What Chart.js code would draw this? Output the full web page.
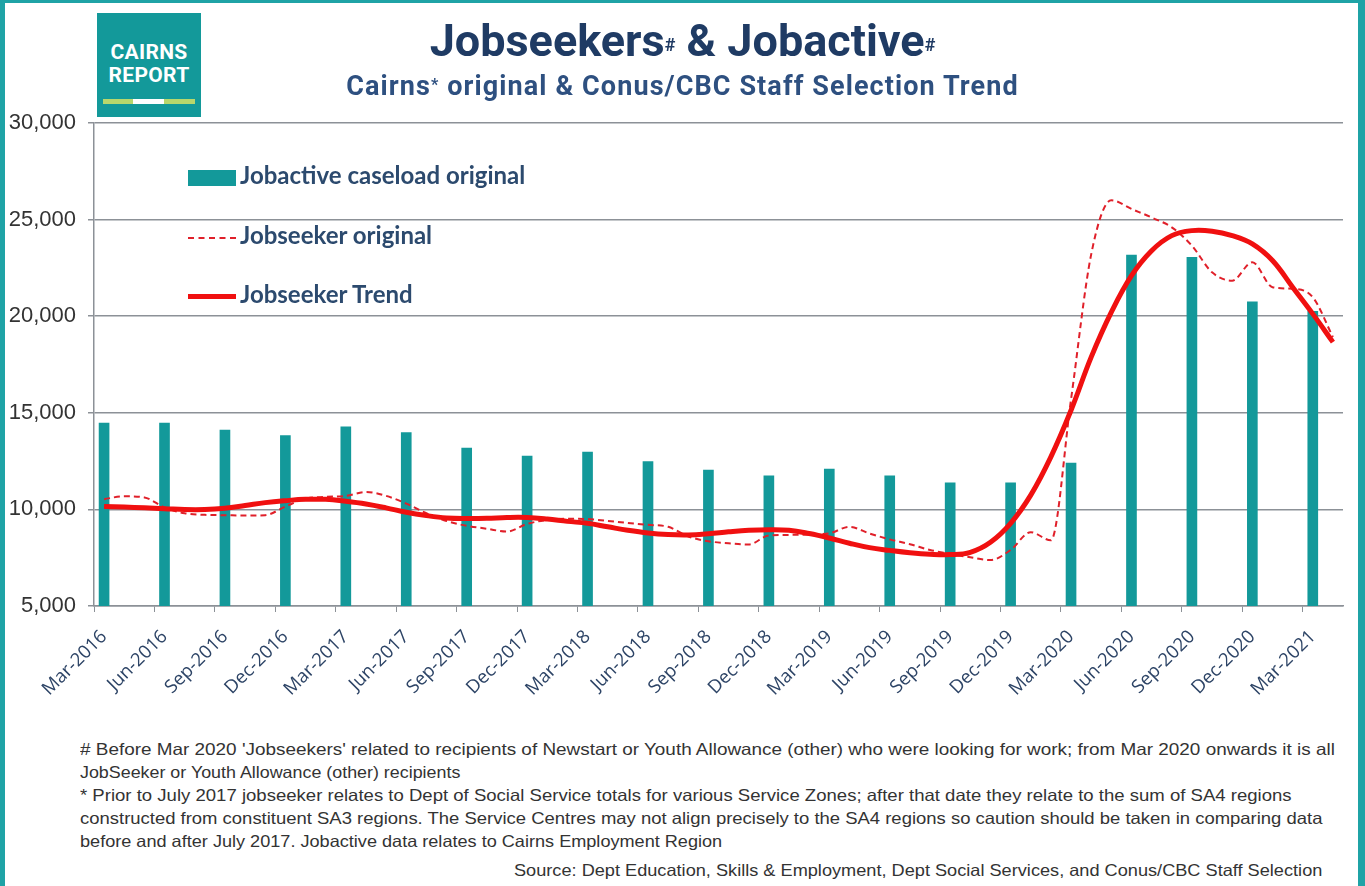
<!DOCTYPE html>
<html>
<head>
<meta charset="utf-8">
<script src="https://cdn.jsdelivr.net/npm/chart.js@4.4.1/dist/chart.umd.min.js"></script>
<style>
  body { margin: 0; width: 1365px; height: 886px; position: relative; background: #fff; overflow: hidden; font-family: "Liberation Sans", Arial, sans-serif; }
  #frame { position: absolute; left: 0; top: 0; width: 1365px; height: 886px; box-sizing: border-box; border-left: 5px solid #1fa3a6; border-right: 7px solid #1fa3a6; border-top: 3px solid #1fa3a6; pointer-events: none; }
  #myChart { position: absolute; left: 0; top: 0; }
  .logo { position: absolute; left: 97px; top: 13px; width: 104px; height: 104px; background: #13999a; color: #fff; font-family: Roboto, sans-serif; font-weight: bold; text-align: center; }
  .logo .t1 { position: absolute; left: 0; width: 104px; top: 28px; font-size: 21px; line-height: 22px; letter-spacing: 0.3px; }
  .logo .t2 { position: absolute; left: 0; width: 104px; top: 51px; font-size: 21px; line-height: 22px; letter-spacing: 0.3px; }
  .logo .bars { position: absolute; left: 6px; top: 86px; height: 5px; width: 92px; background: linear-gradient(to right, #b8d76c 0 33%, #fff 33% 66%, #b8d76c 66% 100%); }
  .title { position: absolute; left: 0; width: 1365px; text-align: center; color: #1f3b64; font-family: Roboto, sans-serif; font-weight: bold; }
  .title sup { font-size: 40%; vertical-align: 0.3em; }
  .leg { position: absolute; left: 188px; height: 28px; font-family: Lato, "Open Sans", sans-serif; font-weight: bold; font-size: 24px; color: #2c4a6e; line-height: 28px; }
  .leg .sw { display: inline-block; width: 48px; vertical-align: middle; margin-right: 4px; }
  .note { position: absolute; left: 80px; font-size: 16.5px; color: #333; white-space: nowrap; transform-origin: left center; }
</style>
</head>
<body>
<canvas id="myChart" width="1365" height="720"></canvas>

<div class="logo"><div class="t1">CAIRNS</div><div class="t2">REPORT</div><div class="bars"></div></div>
<div class="title" style="top:14px; font-size:45px;">Jobseekers<sup>#</sup> &amp; Jobactive<sup>#</sup></div>
<div class="title" style="top:70px; font-size:27px; letter-spacing:1.1px; color:#2e5080;">Cairns<sup style="font-size:60%">*</sup> original &amp; Conus/CBC Staff Selection Trend</div>

<div class="leg" style="top:161px"><span class="sw" style="height:16px; background:#13999a;"></span>Jobactive caseload original</div>
<div class="leg" style="top:221px"><span class="sw" style="border-top:2px dashed #e0202a;"></span>Jobseeker original</div>
<div class="leg" style="top:280px"><span class="sw" style="border-top:5px solid #f01010;"></span>Jobseeker Trend</div>

<div class="note fit" data-w="1255" style="top:740px"># Before Mar 2020 'Jobseekers' related to recipients of Newstart or Youth Allowance (other)  who were looking for work; from Mar 2020 onwards  it is all</div>
<div class="note fit" data-w="380" style="top:763px">JobSeeker or Youth Allowance (other)  recipients</div>
<div class="note fit" data-w="1212" style="top:786px">* Prior to July 2017 jobseeker relates to Dept of Social Service totals for various  Service Zones; after that date they relate to the sum of SA4 regions</div>
<div class="note fit" data-w="1242" style="top:809px">constructed  from constituent  SA3 regions.  The Service Centres may not align precisely to the SA4 regions  so caution should  be taken in comparing  data</div>
<div class="note fit" data-w="642" style="top:832px">before and after July 2017.  Jobactive data relates to Cairns Employment  Region</div>
<div class="note fit" data-w="808" style="top:861px; left:514px">Source: Dept Education,  Skills &amp; Employment,  Dept Social Services, and Conus/CBC  Staff Selection</div>

<div id="frame"></div>

<script>
// Monthly categories, Mar-2016 to Apr-2021
const months = [
    'Mar-2016', 'Apr-2016', 'May-2016', 'Jun-2016', 'Jul-2016', 'Aug-2016', 'Sep-2016', 'Oct-2016', 'Nov-2016', 'Dec-2016',
    'Jan-2017', 'Feb-2017', 'Mar-2017', 'Apr-2017', 'May-2017', 'Jun-2017', 'Jul-2017', 'Aug-2017', 'Sep-2017', 'Oct-2017', 'Nov-2017', 'Dec-2017',
    'Jan-2018', 'Feb-2018', 'Mar-2018', 'Apr-2018', 'May-2018', 'Jun-2018', 'Jul-2018', 'Aug-2018', 'Sep-2018', 'Oct-2018', 'Nov-2018', 'Dec-2018',
    'Jan-2019', 'Feb-2019', 'Mar-2019', 'Apr-2019', 'May-2019', 'Jun-2019', 'Jul-2019', 'Aug-2019', 'Sep-2019', 'Oct-2019', 'Nov-2019', 'Dec-2019',
    'Jan-2020', 'Feb-2020', 'Mar-2020', 'Apr-2020', 'May-2020', 'Jun-2020', 'Jul-2020', 'Aug-2020', 'Sep-2020', 'Oct-2020', 'Nov-2020', 'Dec-2020',
    'Jan-2021', 'Feb-2021', 'Mar-2021', 'Apr-2021'
];

// Jobactive caseload is quarterly
const quarters = [
    'Mar-2016', 'Jun-2016', 'Sep-2016', 'Dec-2016', 'Mar-2017', 'Jun-2017', 'Sep-2017', 'Dec-2017',
    'Mar-2018', 'Jun-2018', 'Sep-2018', 'Dec-2018', 'Mar-2019', 'Jun-2019', 'Sep-2019', 'Dec-2019',
    'Mar-2020', 'Jun-2020', 'Sep-2020', 'Dec-2020', 'Mar-2021'
];
const jobactive = [
    14470, 14470, 14110, 13820, 14270, 13980, 13180, 12760,
    12970, 12470, 12040, 11740, 12090, 11740, 11380, 11380,
    12400, 23170, 23050, 20740, 20250
];

const jobseekerOriginal = [
    10530, 10680, 10620, 10100, 9800, 9720, 9700, 9680, 9700, 10150,
    10550, 10650, 10700, 10900, 10700, 10300, 9800, 9400, 9150, 9000, 8850, 9250,
    9450, 9520, 9500, 9400, 9300, 9200, 9100, 8600, 8350, 8250, 8180, 8650,
    8680, 8700, 8760, 9100, 8750, 8450, 8200, 7900, 7700, 7520, 7380, 7900,
    8820, 8400, 15700, 23200, 26000, 25550, 25110, 24600, 23650, 22270, 21840, 22790,
    21500, 21420, 20980, 18920
];

const jobseekerTrend = [
    10150, 10120, 10080, 10040, 9990, 9990, 10060, 10200, 10350, 10450,
    10520, 10520, 10420, 10280, 10080, 9850, 9680, 9560, 9530, 9540, 9580, 9580,
    9500, 9380, 9280, 9100, 8920, 8780, 8700, 8680, 8740, 8840, 8920, 8950,
    8920, 8750, 8520, 8250, 8020, 7880, 7760, 7680, 7660, 7780, 8300, 9280,
    10740, 12720, 15130, 17880, 20210, 22100, 23390, 24170, 24430, 24400, 24170, 23740,
    22880, 21500, 20120, 18660
];

const yTicks = [5000, 10000, 15000, 20000, 25000, 30000];

const gridGrey = '#8c9197';

const ctx = document.getElementById('myChart').getContext('2d');
const myChart = new Chart(ctx, {
    data: {
        labels: months,
        datasets: [{
            type: 'line',
            label: 'Jobseeker Trend',
            data: jobseekerTrend,
            borderColor: '#f01010',
            borderWidth: 5,
            pointRadius: 0,
            tension: 0.4,
            order: 1
        }, {
            type: 'line',
            label: 'Jobseeker original',
            data: jobseekerOriginal,
            borderColor: '#e0202a',
            borderWidth: 2,
            borderDash: [6, 4],
            pointRadius: 0,
            cubicInterpolationMode: 'monotone',
            order: 2
        }, {
            type: 'bar',
            label: 'Jobactive caseload original',
            data: quarters.map((q, i) => ({ x: q, y: jobactive[i] })),
            backgroundColor: '#13999a',
            barThickness: 10,
            order: 3
        }]
    },
    options: {
        responsive: false,
        animation: false,
        layout: { padding: { top: 123, right: 22, left: 0, bottom: 0 } },
        plugins: {
            legend: { display: false },
            tooltip: { enabled: false }
        },
        scales: {
            x: {
                offset: true,
                afterFit: (scale) => { scale.height = 114; },
                grid: {
                    offset: true,
                    drawOnChartArea: false,
                    tickLength: 6,
                    tickColor: (c) => (c.index % 3 === 0 ? gridGrey : 'rgba(0,0,0,0)')
                },
                border: { color: gridGrey, width: 1.5 },
                ticks: {
                    autoSkip: false,
                    minRotation: 45,
                    maxRotation: 45,
                    padding: 14,
                    color: '#2d4466',
                    font: { family: '"Open Sans", sans-serif', size: 18.5 },
                    callback: function (val, i) {
                        return i % 3 === 0 ? this.getLabelForValue(val) : '';
                    }
                }
            },
            y: {
                min: 5000,
                max: 30000,
                afterFit: (scale) => { scale.width = 94; },
                afterBuildTicks: (scale) => { scale.ticks = yTicks.map(v => ({ value: v })); },
                grid: { color: gridGrey, lineWidth: 1.5, tickLength: 6 },
                border: { color: gridGrey, width: 1.5 },
                ticks: {
                    padding: 12,
                    color: '#333',
                    font: { family: '"Liberation Sans", Arial, sans-serif', size: 22 },
                    callback: (v) => v.toLocaleString('en-US')
                }
            }
        }
    }
});

// stretch the footnote lines to the widths in the picture
document.querySelectorAll('.fit').forEach(el => {
    el.style.display = 'inline-block';
    const w = parseFloat(el.dataset.w);
    el.style.transform = `scaleX(${w / el.offsetWidth})`;
});
</script>
</body>
</html>
